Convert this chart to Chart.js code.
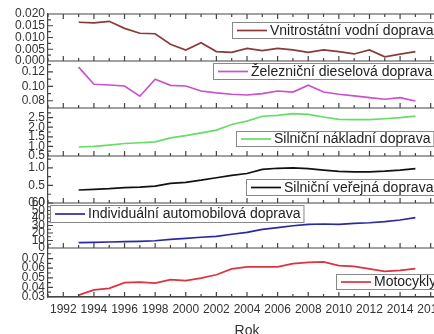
<!DOCTYPE html>
<html>
<head>
<meta charset="utf-8">
<script src="https://cdn.jsdelivr.net/npm/chart.js@4/dist/chart.umd.min.js"></script>
<style>
  html, body { margin: 0; padding: 0; background: #fff; overflow: hidden; }
  #wrap { width: 450px; height: 334px; }
</style>
</head>
<body>
<div id="wrap"><canvas id="chart"></canvas></div>
<script>
const years = [1993, 1994, 1995, 1996, 1997, 1998, 1999, 2000, 2001, 2002, 2003, 2004,
  2005, 2006, 2007, 2008, 2009, 2010, 2011, 2012, 2013, 2014, 2015];
const xTicks = [1992, 1994, 1996, 1998, 2000, 2002, 2004, 2006, 2008, 2010, 2012, 2014, 2016];

const vodni = [0.0165, 0.0162, 0.0169, 0.0139, 0.0118, 0.0116, 0.0071, 0.0047, 0.0078, 0.0040, 0.0037, 0.0054,
  0.0044, 0.0054, 0.0047, 0.0037, 0.0047, 0.0040, 0.0030, 0.0047, 0.0018, 0.0029, 0.0040];
const diesel = [0.1265, 0.1028, 0.1018, 0.1004, 0.0863, 0.1097, 0.1014, 0.1004, 0.0935, 0.0908, 0.0890, 0.0880,
  0.0899, 0.0935, 0.0921, 0.1014, 0.0921, 0.0890, 0.0867, 0.0844, 0.0821, 0.0844, 0.0797];
const nakladni = [0.97, 1.00, 1.07, 1.15, 1.19, 1.24, 1.44, 1.56, 1.70, 1.85, 2.14, 2.32,
  2.57, 2.62, 2.71, 2.67, 2.53, 2.41, 2.39, 2.39, 2.44, 2.50, 2.58];
const verejna = [0.37, 0.39, 0.41, 0.44, 0.45, 0.48, 0.56, 0.59, 0.65, 0.72, 0.79, 0.84,
  0.96, 0.99, 1.00, 0.98, 0.94, 0.90, 0.89, 0.89, 0.91, 0.94, 0.98];
const auto = [7.1, 7.6, 8.0, 8.4, 8.9, 9.7, 11.6, 12.9, 14.3, 15.6, 18.3, 20.9,
  24.9, 27.1, 29.7, 31.6, 32.0, 31.6, 32.9, 33.7, 35.1, 37.3, 40.4];
const moto = [0.032, 0.0374, 0.039, 0.045, 0.0455, 0.0444, 0.048, 0.047, 0.0497, 0.0532, 0.0592, 0.0613,
  0.0613, 0.0613, 0.0647, 0.0661, 0.0665, 0.0626, 0.0619, 0.0592, 0.0566, 0.0577, 0.0595];

const ticks1 = [0, 0.005, 0.010, 0.015, 0.020];
const ticks2 = [0.08, 0.10, 0.12];
const ticks3 = [0.5, 1.0, 1.5, 2.0, 2.5];
const ticks4 = [0, 0.5, 1.0];
const ticks5 = [0, 10, 20, 30, 40, 50, 60];
const ticks6 = [0.03, 0.04, 0.05, 0.06, 0.07];

const labels = ['Vnitrostátní vodní doprava', 'Železniční dieselová doprava', 'Silniční nákladní doprava',
  'Silniční veřejná doprava', 'Individuální automobilová doprava', 'Motocykly'];

// panel setup: [series, ticks, decimals, min, max, weight, colour]
const panels = [
  [vodni, ticks1, 3, 0, 0.020, 47, '#8b3a3a'],
  [diesel, ticks2, 2, 0.07, 0.135, 47, '#cc4fcc'],
  [nakladni, ticks3, 1, 0.5, 3.0, 48, '#66dd66'],
  [verejna, ticks4, 1, 0, 1.34, 47, '#111111'],
  [auto, ticks5, 0, 0, 60, 45, '#2a2aa0'],
  [moto, ticks6, 2, 0.03, 0.081, 49, '#d9343f']
];
// legend boxes: left x, top y, bottom y
const legendPos = [[232, 22, 38], [213, 63, 79], [236, 131, 146], [246, 179, 195], [50, 205, 222], [336, 274, 289]];

Chart.defaults.font.family = '"Liberation Sans", Arial, sans-serif';
Chart.defaults.color = '#333';

const scales = {
  x: {
    type: 'linear', min: 1991, max: 2017,
    grid: { display: false, drawTicks: false, tickLength: 0 },
    border: { color: '#444', width: 1.2 },
    afterBuildTicks: s => { s.ticks = xTicks.map(v => ({ value: v })); },
    afterFit: s => { s.height = 37; },
    ticks: { font: { size: 12 }, padding: 5, maxRotation: 0, autoSkip: false, callback: v => String(v) },
    title: { display: true, text: 'Rok', font: { size: 14 }, color: '#333', padding: { top: 0, bottom: -6 } }
  }
};
// define bottom panel first; left boxes are stacked in reverse order
for (let i = panels.length - 1; i >= 0; i--) {
  const p = panels[i];
  scales['y' + i] = {
    type: 'linear', position: 'left', stack: 'p', stackWeight: p[5],
    min: p[3], max: p[4],
    grid: { display: false, drawTicks: false, tickLength: 0 },
    border: { color: '#444', width: 1.2 },
    afterBuildTicks: s => { s.ticks = p[1].map(v => ({ value: v })); },
    afterFit: s => { s.width = 48; },
    ticks: { font: { size: 12 }, padding: 3, autoSkip: false, callback: v => v.toFixed(p[2]) }
  };
}

const datasets = panels.map((p, i) => ({
  label: labels[i],
  data: years.map((yr, j) => ({ x: yr, y: p[0][j] })),
  yAxisID: 'y' + i,
  borderColor: p[6],
  borderWidth: 1.7,
  pointRadius: 0,
  tension: 0,
  fill: false
}));

const frame = {
  id: 'frame',
  afterDraw(chart) {
    const ctx = chart.ctx;
    const xs = chart.scales.x;
    const L = chart.chartArea.left, R = chart.chartArea.right;
    ctx.save();
    ctx.strokeStyle = '#444';
    ctx.lineWidth = 1.2;
    panels.forEach((p, i) => {
      const s = chart.scales['y' + i];
      ctx.beginPath();
      ctx.moveTo(L, s.bottom); ctx.lineTo(R, s.bottom);
      if (i === 0) { ctx.moveTo(L, s.top); ctx.lineTo(R, s.top); }
      for (let yr = 1991; yr <= 2017; yr++) {
        const x = xs.getPixelForValue(yr);
        const len = yr % 2 === 0 ? 5 : 3;
        ctx.moveTo(x, s.bottom); ctx.lineTo(x, s.bottom - len);
        if (i === 0) { ctx.moveTo(x, s.top); ctx.lineTo(x, s.top + len); }
      }
      const t = p[1];
      const step = t[1] - t[0];
      for (let k = 0; k < t.length; k++) {
        let y = s.getPixelForValue(t[k]);
        ctx.moveTo(L, y); ctx.lineTo(L + 5, y);
        y = s.getPixelForValue(t[k] + step / 2);
        if (y >= s.top) { ctx.moveTo(L, y); ctx.lineTo(L + 3, y); }
      }
      ctx.stroke();
    });
    // legends
    ctx.font = '14px "Liberation Sans", Arial, sans-serif';
    ctx.textBaseline = 'middle';
    panels.forEach((p, i) => {
      const [lx, ty, by] = legendPos[i];
      const tw = ctx.measureText(labels[i]).width;
      const w = 5 + 30 + 3 + tw + 3;
      ctx.fillStyle = '#fff';
      ctx.fillRect(lx, ty, w, by - ty);
      ctx.strokeStyle = '#888';
      ctx.lineWidth = 1;
      ctx.strokeRect(lx + 0.5, ty + 0.5, w, by - ty);
      const cy = (ty + by) / 2 + 0.5;
      ctx.strokeStyle = p[6];
      ctx.lineWidth = 1.7;
      ctx.beginPath();
      ctx.moveTo(lx + 5, cy); ctx.lineTo(lx + 35, cy);
      ctx.stroke();
      ctx.fillStyle = '#222';
      ctx.fillText(labels[i], lx + 38, cy + 0.5);
    });
    ctx.restore();
  }
};

new Chart(document.getElementById('chart'), {
  type: 'line',
  data: { datasets },
  options: {
    responsive: true,
    maintainAspectRatio: false,
    animation: false,
    layout: { padding: { top: 14, left: 0, right: 4, bottom: 0 } },
    plugins: { legend: { display: false }, tooltip: { enabled: false } },
    scales
  },
  plugins: [frame]
});
</script>
</body>
</html>
